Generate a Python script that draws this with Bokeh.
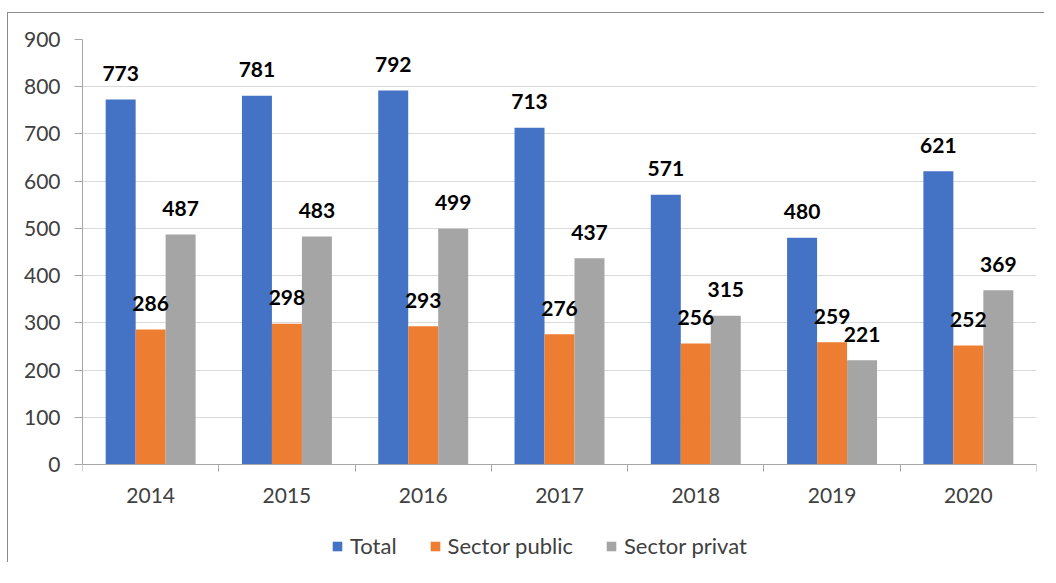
from bokeh.plotting import figure
from bokeh.models import (Range1d, FixedTicker, Legend, LegendItem, ColumnDataSource)
from bokeh.core.properties import value
from bokeh.embed import file_html
from bokeh.resources import INLINE

years = ["2014", "2015", "2016", "2017", "2018", "2019", "2020"]
total = [773, 781, 792, 713, 571, 480, 621]
public = [286, 298, 293, 276, 256, 259, 252]
privat = [487, 483, 499, 437, 315, 221, 369]
series_names = ["Total", "Sector public", "Sector privat"]
colors = ["#4472C4", "#ED7D31", "#A5A5A5"]
y_ticks = [0, 100, 200, 300, 400, 500, 600, 700, 800, 900]

FONT = "Lato"
BAR_W = 0.22
offsets = [-BAR_W, 0.0, BAR_W]

Y_MAX = 900
FRAME_H = 523
PLOT_H = 425  # pixel height of the 0..900 value band
Y_MIN = -(FRAME_H - PLOT_H) / PLOT_H * Y_MAX  # room below 0 for year labels and legend

p = figure(frame_width=954, frame_height=FRAME_H, output_backend="svg", toolbar_location=None,
           x_range=Range1d(0, len(years)), y_range=Range1d(Y_MIN, Y_MAX),
           min_border_left=74, min_border_top=26, min_border_right=8, min_border_bottom=0)
p.styles = {"border-left": "1.5px solid #8a8a8a", "border-top": "1.5px solid #8a8a8a",
            "margin-top": "12px", "margin-left": "7px"}
p.outline_line_color = None
p.background_fill_color = "white"
p.border_fill_color = "white"

centers = [i + 0.5 for i in range(len(years))]
renderers = []
sources = []
for vals, off, col in zip([total, public, privat], offsets, colors):
    src = ColumnDataSource(dict(x=[c + off for c in centers], top=vals,
                                lab=[str(v) for v in vals]))
    r = p.vbar(x="x", top="top", width=BAR_W, bottom=0, source=src,
               fill_color=col, line_color=None)
    renderers.append(r)
    sources.append(src)
for src in sources:
    p.text(x="x", y="top", text="lab", source=src, text_align="center",
           text_baseline="middle", y_offset=-26, text_font=value(FONT),
           text_font_style="bold", text_font_size="21px", text_color="#000000")

# category labels under the x axis
cat_src = ColumnDataSource(dict(x=centers, y=[0] * len(years), lab=years))
p.text(x="x", y="y", text="lab", source=cat_src, text_align="center",
       text_baseline="middle", y_offset=31, text_font=value(FONT),
       text_font_size="21px", text_color="#404040")

# x axis drawn at value 0, ticks at category boundaries
p.xaxis.fixed_location = 0
p.xaxis.ticker = FixedTicker(ticks=[], minor_ticks=list(range(len(years) + 1)))
p.xaxis.major_tick_out = 0
p.xaxis.major_tick_in = 0
p.xaxis.minor_tick_out = 7
p.xaxis.minor_tick_in = 0
p.xaxis.minor_tick_line_color = "#a6a6a6"
p.xaxis.axis_line_color = "#a6a6a6"
p.xaxis.major_label_standoff = 0

p.yaxis.ticker = FixedTicker(ticks=y_ticks)
p.yaxis.bounds = (0, Y_MAX)
p.yaxis.major_tick_out = 8
p.yaxis.major_tick_in = 0
p.yaxis.minor_tick_line_color = None
p.yaxis.major_tick_line_color = "#a6a6a6"
p.yaxis.axis_line_color = "#a6a6a6"
p.yaxis.major_label_standoff = 14
p.yaxis.major_label_text_font = FONT
p.yaxis.major_label_text_font_size = "21px"
p.yaxis.major_label_text_color = "#404040"

p.xgrid.grid_line_color = None
p.ygrid.grid_line_color = "#d9d9d9"
p.ygrid.grid_line_width = 1

legend = Legend(items=[LegendItem(label=n, renderers=[r]) for n, r in zip(series_names, renderers)],
                orientation="horizontal", location=(249, 3),
                glyph_width=12, glyph_height=12, label_standoff=7, spacing=32,
                label_text_font=FONT, label_text_font_size="22px",
                label_text_color="#404040", border_line_color=None,
                background_fill_alpha=0, margin=0, padding=3)
p.add_layout(legend, "center")

open("out.html", "w").write(file_html(p, INLINE))
